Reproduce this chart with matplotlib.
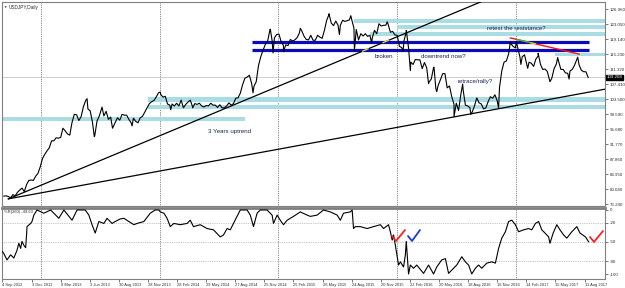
import numpy as np
import pandas as pd
import matplotlib
matplotlib.use('Agg')
import matplotlib.pyplot as plt
from matplotlib.lines import Line2D
from matplotlib.patches import Rectangle

plt.rcParams['font.family'] = ['Liberation Sans', 'DejaVu Sans']

START = '2012-09-04'

# ---------------- data ----------------
p2012 = [78.3, 78.4, 78.2, 77.9, 78.7, 78.4, 79.3, 79.9, 80.4, 79.5, 81.3, 82.4, 82.5, 82.4, 83.5, 84.2, 85.9]
p2013 = [88.1, 89.2, 90.1, 90.9, 92.7, 92.7, 93.5, 93.4, 93.6, 96.0, 95.3, 94.5, 94.2, 97.5, 99.6, 99.5, 98.0,
         99.0, 101.6, 103.2, 101.0, 100.5, 97.5, 94.1, 97.9, 99.2, 101.2, 99.2, 100.4, 98.3, 98.9, 96.2, 97.5,
         98.7, 98.1, 99.6, 99.4, 99.4, 98.3, 97.4, 98.6, 97.8, 97.4, 98.7, 99.1, 100.2, 101.3, 102.4, 102.9,
         103.2, 104.1, 105.2]
p2014 = [104.8, 104.1, 104.3, 102.3, 102.0, 102.3, 101.8, 102.5, 101.8, 103.3, 101.3, 102.2, 102.8, 103.3,
         101.6, 102.4, 102.2, 102.5, 101.8, 101.5, 101.9, 101.8, 102.5, 102.0, 102.0, 101.4, 102.1, 101.3,
         101.3, 101.8, 102.6, 102.0, 102.4, 103.8, 103.9, 105.1, 107.3, 109.0, 109.3, 109.8, 107.6, 106.9,
         108.1, 112.3, 114.6, 116.3, 117.8, 118.6, 121.5, 118.8, 119.5, 120.4]
p2015 = [120.5, 118.5, 117.5, 117.7, 117.5, 119.1, 118.7, 119.0, 119.6, 120.8, 121.4, 120.0, 119.1, 119.0,
         120.2, 118.9, 118.9, 120.2, 119.7, 119.4, 121.5, 124.1, 125.6, 123.4, 122.7, 123.9, 122.8, 122.8,
         124.1, 123.8, 124.0, 124.2, 124.3, 122.0, 121.7, 119.0, 120.6, 120.0, 120.6, 119.9, 120.2, 119.4,
         121.5, 120.6, 123.2, 122.6, 122.8, 122.8, 123.1, 121.0, 121.2, 120.3]
p2016 = [120.2, 117.3, 117.0, 118.8, 121.1, 116.9, 113.2, 112.6, 113.9, 113.8, 113.8, 111.5, 113.1, 111.7,
         108.0, 108.8, 111.8, 106.3, 107.1, 108.6, 110.2, 110.2, 106.5, 107.0, 104.2, 102.2, 102.5, 100.6,
         104.8, 106.0, 102.0, 101.8, 101.3, 100.2, 101.8, 103.9, 102.6, 102.3, 101.0, 101.3, 102.9, 104.2,
         103.8, 104.7, 103.1, 106.6, 110.9, 113.2, 113.5, 115.3, 118.0, 117.3, 116.9]
p2017 = [117.0, 114.5, 114.6, 115.1, 112.6, 113.2, 112.9, 112.1, 114.0, 114.8, 112.7, 111.3, 111.4, 110.8,
         108.6, 109.0, 111.5, 112.7, 113.4, 111.3, 111.3, 110.4, 110.3, 110.9, 111.3, 112.4, 113.9, 112.5,
         111.1, 110.7, 110.7, 109.2]

spike_dates = ['2013-05-22', '2013-06-13', '2013-07-08', '2013-08-08', '2013-10-08', '2014-01-02',
               '2014-02-04', '2014-04-11', '2014-10-15', '2014-12-08', '2014-12-16', '2015-01-16',
               '2015-03-10', '2015-06-05', '2015-07-08', '2015-08-12', '2015-08-24', '2015-10-15',
               '2015-12-02', '2016-01-20', '2016-01-29', '2016-02-11', '2016-04-07', '2016-04-25',
               '2016-05-03', '2016-06-24', '2016-07-21', '2016-08-16', '2016-11-09', '2016-12-15',
               '2017-01-03', '2017-01-17', '2017-02-07', '2017-03-10', '2017-04-17', '2017-05-10',
               '2017-06-14', '2017-07-11']
spike_vals = [103.7, 93.8, 101.5, 96.0, 96.6, 105.4, 100.8, 101.3, 105.2, 121.8, 115.6, 115.9,
              122.0, 125.8, 120.4, 125.3, 116.2, 118.1, 123.7, 116.0, 121.5, 111.0, 107.6, 111.9,
              105.5, 99.0, 107.5, 99.6, 101.2, 118.6, 118.6, 112.6, 111.6, 115.5, 108.1, 114.4,
              108.8, 114.5]

# Williams %R(260): bar index / value
wr_bars = [0, 3, 10, 18, 25, 32, 36, 40, 43, 47, 51, 53, 54, 62, 65, 69, 76, 91, 106, 124, 135, 153, 164,
           182, 190, 197, 204, 212, 223, 230, 241, 248, 259, 267, 278, 289, 296, 311, 325, 336, 344, 347,
           355, 362, 369, 377, 391, 406, 413, 420, 435, 450, 464, 479, 486, 494, 501, 508, 516, 523, 538,
           545, 552, 560, 567, 582, 593, 596, 604, 611, 618, 626, 640, 655, 670, 677, 692, 706, 721, 736,
           743, 750, 765, 769, 772, 776, 787, 802, 816, 831, 838, 849, 853, 857, 860, 864, 868, 871, 875,
           882, 886, 888, 891, 893, 897, 904, 911, 926, 937, 948, 955, 966, 974, 981, 992, 999, 1010, 1018,
           1025, 1032, 1040, 1047, 1054, 1065, 1076, 1084, 1091, 1098, 1106, 1113, 1120, 1128, 1135, 1146,
           1157, 1164, 1172, 1179, 1186, 1193, 1201, 1204, 1211, 1219, 1226, 1234, 1241, 1252, 1263, 1270,
           1282, 1289]
wr_vals = [-65, -68, -78, -70, -75, -63, -52, -60, -49, -55, -59, -39, -26, -21, -18, -8, 0, -5, 0, -13, 0,
           -16, 0, 0, -8, -23, -36, -18, -21, -13, -21, -18, -14, -13, -18, -23, -21, -18, -5, 0, 0, -3,
           -5, -13, -26, -21, -23, -21, -16, -26, -23, -29, -31, -42, -39, -29, -31, -21, -10, 0, 0,
           -8, -26, -5, 0, 0, -8, -21, -8, -16, -23, -16, -10, -3, -8, -10, -8, 0, -3, -8,
           -16, -5, -3, 0, -29, -26, -26, -29, -26, -23, -29, -23, -34, -47, -39, -55, -73, -86, -81,
           -89, -70, -49, -81, -100, -86, -91, -86, -99, -86, -100, -89, -78, -76, -99, -91, -86, -73, -81,
           -86, -100, -91, -86, -91, -83, -81, -83, -60, -44, -34, -18, -16, -23, -34, -31,
           -29, -31, -21, -18, -31, -36, -42, -52, -36, -23, -31, -39, -44, -34, -26, -36,
           -42, -49.63]

price_ticks = [126.960, 123.050, 119.140, 115.230, 111.320, 107.410, 103.500, 99.590, 95.680, 91.770,
               87.860, 83.950, 80.040, 76.240]
wr_ticks = [0, -20, -50, -80, -100]
date_labels = ['4 Sep 2012', '3 Dec 2012', '8 Mar 2013', '3 Jun 2013', '30 Aug 2013', '28 Nov 2013',
               '28 Feb 2014', '29 May 2014', '27 Aug 2014', '25 Nov 2014', '25 Feb 2015', '26 May 2015',
               '24 Aug 2015', '20 Nov 2015', '22 Feb 2016', '20 May 2016', '18 Aug 2016', '16 Nov 2016',
               '14 Feb 2017', '15 May 2017', '11 Aug 2017']
year_starts = ['2013-01-01', '2014-01-01', '2015-01-01', '2016-01-01', '2017-01-01']

# zones (price ranges, start date)
zone_lo = [97.9, 102.9, 100.9, 123.4, 121.7, 119.9, 114.9]
zone_hi = [98.9, 104.2, 102.0, 124.4, 122.8, 121.0, 115.6]
zone_start = ['2012-09-04', '2013-11-25', '2013-11-25', '2015-08-20', '2016-01-01', '2015-10-10', '2017-05-01']
zone_end = ['2014-09-19', None, None, None, None, None, None]

blue_levels = [118.57, 116.36]
blue_from, blue_to = '2014-10-10', '2017-08-15'
trend1 = (('2012-09-21', 77.6), ('2016-09-07', 128.6))
trend2 = (('2012-09-21', 77.6), ('2017-08-15', 105.4))
red_line = (('2016-12-15', 119.5), ('2017-07-14', 115.3))
last_price = 109.208


def bar(d):
    return int(np.busday_count(np.datetime64(START), np.datetime64(d, 'D')))


weekly = pd.date_range('2012-09-07', periods=len(p2012 + p2013 + p2014 + p2015 + p2016 + p2017), freq='W-FRI')
px = [bar(d.strftime('%Y-%m-%d')) for d in weekly] + [bar(d) for d in spike_dates]
py = p2012 + p2013 + p2014 + p2015 + p2016 + p2017 + spike_vals
order = np.argsort(px, kind='stable')
px = np.array(px)[order]
py = np.array(py)[order]

# ---------------- figure ----------------
W, H = 625, 288
fig = plt.figure(figsize=(W / 100, H / 100), dpi=100)
fig.patch.set_facecolor('white')
L, R = 2, 605
ax = fig.add_axes([L / W, 1 - 206 / H, (R - L) / W, (206 - 2) / H])
ax2 = fig.add_axes([L / W, 1 - 279 / H, (R - L) / W, (279 - 208) / H])
XMAX = 1325
for a in (ax, ax2):
    a.set_xlim(-1, XMAX)
    for s in a.spines.values():
        s.set_color('#808080')
        s.set_linewidth(0.8)
ax.set_ylim(75.74, 128.86)
ax2.set_ylim(-107.8, 3.1)
ax2.spines['top'].set_linewidth(2.0)

zone_col = '#a9dce3'
for lo, hi, s, e in zip(zone_lo, zone_hi, zone_start, zone_end):
    x0 = bar(s)
    x1 = bar(e) if e else XMAX
    ax.add_patch(Rectangle((x0, lo), x1 - x0, hi - lo, facecolor=zone_col, edgecolor='none', zorder=1))

# year separators
for d in year_starts:
    for a in (ax, ax2):
        a.axvline(bar(d), color='#202020', lw=0.5, ls=(0, (1.0, 1.6)), zorder=0.5)

# bid line
ax.axhline(last_price, color='#c8c8c8', lw=0.6, zorder=0.8)

# blue levels
for lv in blue_levels:
    ax.plot([bar(blue_from), bar(blue_to)], [lv, lv], color='#0b0bb8', lw=2.3, solid_capstyle='butt', zorder=3)


def extend(line, x_end):
    (d0, y0), (d1, y1) = line
    x0, x1 = bar(d0), bar(d1)
    k = (y1 - y0) / (x1 - x0)
    return [x0, x_end], [y0, y0 + k * (x_end - x0)], k


for tl in (trend1, trend2):
    xs, ys, _ = extend(tl, XMAX)
    ax.plot(xs, ys, color='black', lw=0.9, zorder=4)

# yellow marks where trend line 1 crosses the blue levels
xs1, ys1, k1 = extend(trend1, XMAX)
for lv in blue_levels:
    xc = xs1[0] + (lv - ys1[0]) / k1
    ax.plot([xc - 6, xc + 6], [lv - 6 * k1, lv + 6 * k1], color='#f0e040', lw=0.9, zorder=4.5)

# price
ax.plot(px, py, color='black', lw=0.8, zorder=5)

# red resistance line with green section
(rd0, ry0), (rd1, ry1) = red_line
rx0, rx1 = bar(rd0), bar(rd1)
ax.plot([rx0, rx1], [ry0, ry1], color='#ff1010', lw=1.0, zorder=6)
for f0, f1, c in ((0.10, 0.30, '#30c030'), (0.30, 0.36, '#c8d830')):
    ax.plot([rx0 + f0 * (rx1 - rx0), rx0 + f1 * (rx1 - rx0)],
            [ry0 + f0 * (ry1 - ry0), ry0 + f1 * (ry1 - ry0)], color=c, lw=1.0, zorder=6.5)

# ticks
ax.yaxis.tick_right()
ax.set_yticks(price_ticks)
ax.set_yticklabels(['%.3f' % t for t in price_ticks])
ax.set_xticks([])
ax.tick_params(axis='y', labelsize=3.2, length=2, width=0.5, color='#404040', pad=1.5, labelcolor='#303030')
ax2.yaxis.tick_right()
ax2.set_yticks(wr_ticks)
ax2.set_yticklabels([str(t) for t in wr_ticks])
ax2.tick_params(axis='y', labelsize=3.2, length=2, width=0.5, color='#404040', pad=1.5, labelcolor='#303030')
for t in (-20, -50, -80):
    ax2.axhline(t, color='#909090', lw=0.5, ls=(0, (1.0, 1.6)), zorder=0.5)

label_bars = [0 + 64 * i for i in range(len(date_labels))]
ax2.set_xticks(label_bars)
ax2.set_xticklabels(date_labels, ha='left')
ax2.tick_params(axis='x', labelsize=2.9, length=2, width=0.5, color='#404040', pad=1.0, labelcolor='#303030')

ax2.plot(wr_bars, wr_vals, color='black', lw=0.8, zorder=5)

# current price box
ax.text(1.003, (last_price - 75.74) / (128.86 - 75.74), '%.3f' % last_price, transform=ax.transAxes,
        fontsize=3.2, color='white', va='center', ha='left',
        bbox=dict(boxstyle='square,pad=0.15', facecolor='black', edgecolor='black'), zorder=10)

# texts
txt_col = '#1b2350'
def ftext(x, y, s, size=4.4, color=txt_col, **kw):
    fig.text(x / W, 1 - y / H, s, fontsize=size, color=color, va='center', **kw)

ftext(9, 7, 'USDJPY,Daily', size=3.4, color='#303030')
ftext(3, 7, '\u25bc', size=2.5, color='#303030')
ftext(375, 57, 'broken')
ftext(421, 57, 'downtrend now?')
ftext(487, 28, 'retest the resistance?')
ftext(458, 82, 'retrace/rally?')
ftext(208, 131, '3 Years uptrend')
ftext(4, 212, '%R(260) -49.63', size=3.0, color='#303030')


def check(x0, y0, xm, ym, x1, y1, color):
    fig.add_artist(Line2D([x0 / W, xm / W, x1 / W], [1 - y0 / H, 1 - ym / H, 1 - y1 / H],
                          color=color, lw=1.3, solid_capstyle='round', solid_joinstyle='round'))

check(392, 236, 396, 241, 405, 230, '#ff2020')
check(408, 236, 412, 241, 420, 230, '#1a3ad8')
check(590, 237, 594, 242, 603, 231, '#ff2020')

fig.savefig('out.png', dpi=100)
